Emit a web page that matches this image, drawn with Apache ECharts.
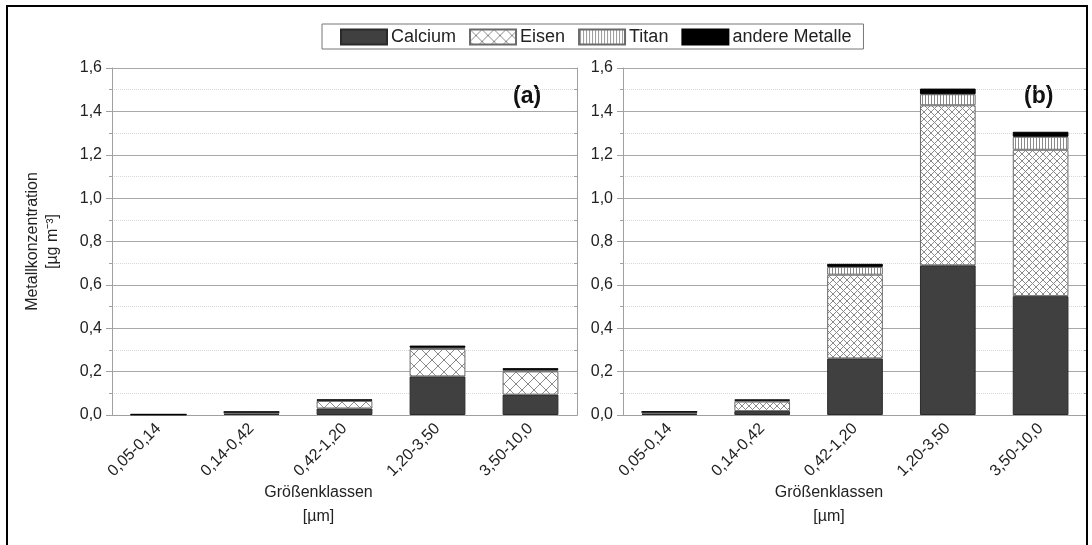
<!DOCTYPE html>
<html>
<head>
<meta charset="utf-8">
<script src="https://cdn.jsdelivr.net/npm/echarts@6/dist/echarts.min.js"></script>
<style>html,body{margin:0;padding:0;background:#fff}#c{width:1092px;height:545px}</style>
</head>
<body>
<div id="c"></div>
<script>
// ---- data ----
const categories = ['0,05-0,14', '0,14-0,42', '0,42-1,20', '1,20-3,50', '3,50-10,0'];
const seriesNames = ['Calcium', 'Eisen', 'Titan', 'andere Metalle'];
// panel (a)
const calciumA = [0.001, 0.005, 0.030, 0.178, 0.094];
const eisenA   = [0.001, 0.007, 0.035, 0.127, 0.107];
const titanA   = [0.0005, 0.001, 0.003, 0.005, 0.006];
const andereA  = [0.0005, 0.002, 0.003, 0.010, 0.009];
// panel (b)
const calciumB = [0.005, 0.018, 0.261, 0.690, 0.548];
const eisenB   = [0.007, 0.044, 0.386, 0.738, 0.675];
const titanB   = [0.002, 0.004, 0.036, 0.051, 0.060];
const andereB  = [0.001, 0.006, 0.014, 0.026, 0.023];
const yMin = 0, yMax = 1.6, yInterval = 0.2;
const panelLabels = ['(a)', '(b)'];

// ---- patterns ----
function crossHatch(size, color) {
  const c = document.createElement('canvas');
  c.width = c.height = size;
  const g = c.getContext('2d');
  g.fillStyle = '#fff'; g.fillRect(0, 0, size, size);
  g.strokeStyle = color; g.lineWidth = 1;
  g.beginPath();
  g.moveTo(0, 0); g.lineTo(size, size);
  g.moveTo(size, 0); g.lineTo(0, size);
  g.stroke();
  return { image: c, repeat: 'repeat' };
}
function vLines(size, color) {
  const c = document.createElement('canvas');
  c.width = size; c.height = size;
  const g = c.getContext('2d');
  g.fillStyle = '#fff'; g.fillRect(0, 0, size, size);
  g.fillStyle = color; g.fillRect(1, 0, 1, size);
  return { image: c, repeat: 'repeat' };
}
const patA = { ca: '#404040', fe: crossHatch(12, '#8a8a8a'), ti: vLines(3, '#9a9a9a'), an: '#000' };
const patB = { ca: '#404040', fe: crossHatch(7, '#8a8a8a'), ti: vLines(3, '#8a8a8a'), an: '#000' };

const FONT = 'Liberation Sans, Arial, Helvetica, sans-serif';
const grids = [
  { left: 112, top: 68, width: 465, height: 347 },
  { left: 623, top: 68, width: 464, height: 347 }
];

const xAxes = [], yAxes = [], series = [];
const gridLine = '#a0a0a0';
[0, 1].forEach(gi => {
  // bottom category axis with labels
  xAxes.push({
    type: 'category', gridIndex: gi, data: categories, position: 'bottom',
    axisLine: { lineStyle: { color: gridLine } },
    axisTick: { alignWithLabel: true, length: 5, lineStyle: { color: gridLine } },
    axisLabel: { rotate: 45, fontSize: 16, color: '#222', fontFamily: FONT, margin: 11 },
    name: 'Größenklassen\n[µm]', nameLocation: 'middle', nameGap: 66, nameMoveOverlap: false,
    nameTextStyle: { fontSize: 16, color: '#222', fontFamily: FONT, lineHeight: 24, padding: [0, 52, 0, 0] }
  });
  // top axis line with inward ticks
  xAxes.push({
    type: 'category', gridIndex: gi, data: categories, position: 'top',
    axisLine: { lineStyle: { color: gridLine } },
    axisTick: { alignWithLabel: true, inside: true, length: 4, lineStyle: { color: gridLine } },
    axisLabel: { show: false }
  });
  // boundary ticks bottom
  xAxes.push({
    type: 'category', gridIndex: gi, data: categories, position: 'bottom',
    axisLine: { show: false },
    axisTick: { length: 3, lineStyle: { color: gridLine } },
    axisLabel: { show: false }
  });
  // boundary ticks top
  xAxes.push({
    type: 'category', gridIndex: gi, data: categories, position: 'top',
    axisLine: { show: false },
    axisTick: { inside: true, length: 3, lineStyle: { color: gridLine } },
    axisLabel: { show: false }
  });
  yAxes.push({
    type: 'value', gridIndex: gi, min: yMin, max: yMax, interval: yInterval, position: 'left',
    axisLine: { show: true, lineStyle: { color: gridLine } },
    axisTick: { show: true, length: 6, lineStyle: { color: gridLine } },
    minorTick: { show: true, splitNumber: 2, length: 3, lineStyle: { color: gridLine } },
    splitLine: { show: true, lineStyle: { color: '#a8a8a8', width: 1 } },
    minorSplitLine: { show: true, lineStyle: { color: '#d8d8d8', type: 'dotted', width: 1 } },
    axisLabel: { fontSize: 16, color: '#222', fontFamily: FONT, margin: 10,
      formatter: v => v.toFixed(1).replace('.', ',') },
    name: gi === 0 ? 'Metallkonzentration\n[µg m⁻³]' : '',
    nameLocation: 'middle', nameGap: 49, nameMoveOverlap: false,
    nameTextStyle: { fontSize: 16, color: '#222', fontFamily: FONT, lineHeight: 20 }
  });
  yAxes.push({
    type: 'value', gridIndex: gi, min: yMin, max: yMax, interval: yInterval, position: 'right',
    axisLine: { show: true, lineStyle: { color: gridLine } },
    axisTick: { show: true, inside: true, length: 4, lineStyle: { color: gridLine } },
    minorTick: { show: true, inside: true, splitNumber: 2, length: 3, lineStyle: { color: gridLine } },
    splitLine: { show: false },
    axisLabel: { show: false }
  });
});

const panels = [
  { data: [calciumA, eisenA, titanA, andereA], pat: patA },
  { data: [calciumB, eisenB, titanB, andereB], pat: patB }
];
panels.forEach((p, gi) => {
  const fills = [p.pat.ca, p.pat.fe, p.pat.ti, p.pat.an];
  const borders = ['#2a2a2a', '#6a6a6a', '#6a6a6a', '#000'];
  seriesNames.forEach((nm, si) => {
    series.push({
      type: 'bar', name: nm, stack: 'st' + gi,
      xAxisIndex: gi * 4, yAxisIndex: gi * 2,
      data: p.data[si], barWidth: '60%',
      itemStyle: { color: fills[si], borderColor: borders[si], borderWidth: 1 },
      emphasis: { disabled: true }
    });
  });
});

const chart = echarts.init(document.getElementById('c'), null, { renderer: 'canvas' });
chart.setOption({
  animation: false,
  backgroundColor: '#fff',
  grid: grids,
  xAxis: xAxes,
  yAxis: yAxes,
  series: series,
  legend: {
    data: seriesNames, left: 322, top: 24,
    icon: 'rect', itemWidth: 46, itemHeight: 15, itemGap: 13,
    padding: [4, 12, 3, 18],
    borderColor: '#777', borderWidth: 1, backgroundColor: '#fff',
    textStyle: { fontSize: 18, color: '#222', fontFamily: FONT, padding: [0, 0, 0, -1] },
    selectedMode: false
  },
  graphic: [
    { type: 'text', left: 513, top: 85, style: { text: panelLabels[0], font: 'bold 23px ' + FONT, fill: '#111' } },
    { type: 'text', left: 1024, top: 85, style: { text: panelLabels[1], font: 'bold 23px ' + FONT, fill: '#111' } },
    { type: 'rect', shape: { x: 7, y: 6, width: 1080, height: 560 },
      style: { fill: 'none', stroke: '#000', lineWidth: 2 }, z: 100 }
  ]
});
</script>
</body>
</html>
